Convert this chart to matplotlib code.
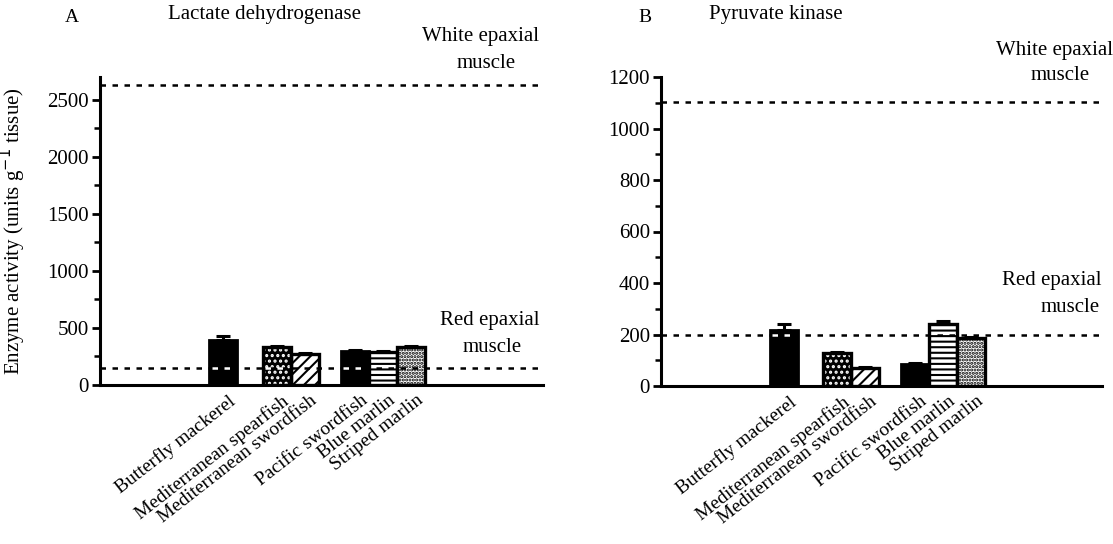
import numpy as np
import matplotlib
matplotlib.use("Agg")
import matplotlib.pyplot as plt
import matplotlib.transforms as mtransforms
from matplotlib.ticker import MultipleLocator

plt.rcParams['font.family'] = ['Liberation Serif', 'DejaVu Serif']
plt.rcParams['hatch.linewidth'] = 1.5

# data
species = ['Butterfly mackerel', 'Mediterranean spearfish', 'Mediterranean swordfish',
           'Pacific swordfish', 'Blue marlin', 'Striped marlin']
ldh_mean = [395, 333, 272, 298, 289, 333]
ldh_err = [35, 8, 5, 8, 8, 10]
ldh_white = 2630
ldh_red = 149

pk_mean = [218, 127, 71, 85, 240, 185]
pk_err = [23, 5, 3, 5, 14, 6]
pk_white = 1101
pk_red = 198

# bar slots (grouped by genus)
xpos = [4.4, 6.3, 7.3, 9.1, 10.1, 11.1]
fills = ['solid', 'dots_on_black', 'diag', 'solid', 'hlines', 'dots']

DASH = (0, (2.2, 2.6))


def draw_panel(ax, means, errs, white, red, ymax, major, minor):
    for x, m, e, f in zip(xpos, means, errs, fills):
        if f == 'solid':
            ax.bar(x, m, width=1.0, color='black', edgecolor='black', lw=2, zorder=3)
        elif f == 'dots_on_black':
            ax.bar(x, m, width=1.0, color='black', edgecolor='white', hatch='...', lw=0, zorder=3)
            ax.bar(x, m, width=1.0, fill=False, edgecolor='black', lw=2.4, zorder=4)
        elif f == 'diag':
            ax.bar(x, m, width=1.0, color='white', edgecolor='black', hatch='///', lw=2.4, zorder=3)
        elif f == 'hlines':
            ax.bar(x, m, width=1.0, color='white', edgecolor='black', hatch='---', lw=2.4, zorder=3)
        elif f == 'dots':
            ax.bar(x, m, width=1.0, color='white', edgecolor='black', hatch='.....', lw=2.4, zorder=3)
        ax.errorbar(x, m, yerr=[[0], [e]], color='black', capsize=5, capthick=2.2,
                    elinewidth=2.2, zorder=5)
        # the reference line shows up as white dashes across the dark bars
        if f in ('solid', 'dots_on_black') and m > red:
            ax.hlines(red, x - 0.42, x + 0.42, color='white', lw=1.8, linestyles=DASH, zorder=7)

    ax.axhline(white, color='black', lw=1.8, ls=DASH, zorder=6)
    ax.axhline(red, color='black', lw=1.8, ls=DASH, zorder=6)

    ax.set_xlim(0, 15.8)
    ax.set_ylim(0, ymax)
    for s in ['top', 'right']:
        ax.spines[s].set_visible(False)
    for s in ['left', 'bottom']:
        ax.spines[s].set_linewidth(2.2)
    ax.yaxis.set_major_locator(MultipleLocator(major))
    ax.yaxis.set_minor_locator(MultipleLocator(minor))
    ax.tick_params(axis='y', which='major', length=6, width=2, labelsize=15, pad=2)
    ax.tick_params(axis='y', which='minor', length=4, width=1.8)
    ax.set_xticks(xpos)
    ax.set_xticklabels(species, rotation=38, ha='right', rotation_mode='anchor', fontsize=14)
    ax.tick_params(axis='x', length=0, pad=5)
    offset = mtransforms.ScaledTranslation(5 / 100, 0, ax.figure.dpi_scale_trans)
    for lab in ax.get_xticklabels():
        lab.set_transform(lab.get_transform() + offset)


fig = plt.figure(figsize=(11.13, 5.44), dpi=100)
W, H = 1113, 544

axA = fig.add_axes([100 / W, 1 - 385 / H, 443 / W, 308 / H])
axB = fig.add_axes([661 / W, 1 - 386 / H, 441 / W, 309 / H])

draw_panel(axA, ldh_mean, ldh_err, ldh_white, ldh_red, 2700, 500, 250)
draw_panel(axB, pk_mean, pk_err, pk_white, pk_red, 1200, 200, 100)

axA.set_ylabel('Enzyme activity (units g$^{-1}$ tissue)', fontsize=15)
axA.yaxis.set_label_coords(-72 / 443, 0.5)


def ftext(x, y, s, **kw):
    fig.text(x / W, 1 - y / H, s, va='center', **kw)


ftext(72, 17, 'A', ha='center', fontsize=14)
ftext(645, 17, 'B', ha='center', fontsize=14)
ftext(264, 15, 'Lactate dehydrogenase', ha='center', fontsize=15)
ftext(776, 15, 'Pyruvate kinase', ha='center', fontsize=15)

ftext(480, 37, 'White epaxial', ha='center', fontsize=15)
ftext(486, 63, 'muscle', ha='center', fontsize=15)
ftext(490, 320, 'Red epaxial', ha='center', fontsize=15)
ftext(492, 347, 'muscle', ha='center', fontsize=15)

ftext(1055, 50, 'White epaxial', ha='center', fontsize=15)
ftext(1060, 75, 'muscle', ha='center', fontsize=15)
ftext(1052, 281, 'Red epaxial', ha='center', fontsize=15)
ftext(1070, 308, 'muscle', ha='center', fontsize=15)

fig.savefig('out.png', dpi=100)
